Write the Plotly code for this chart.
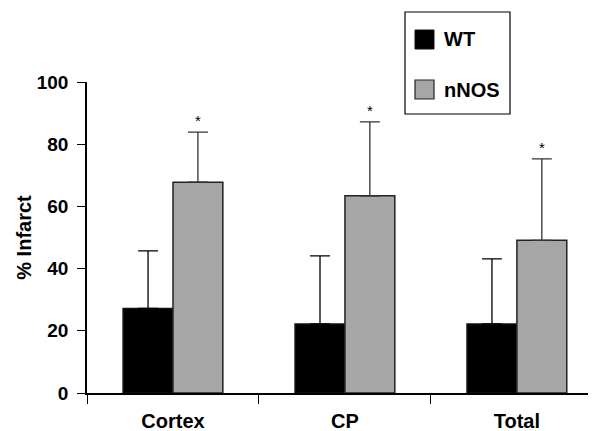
import plotly.graph_objects as go

categories = ["Cortex", "CP", "Total"]
wt_values = [27.2, 22.2, 22.2]
wt_errors = [18.5, 21.9, 20.9]
nnos_values = [67.8, 63.4, 49.1]
nnos_errors = [16.1, 23.8, 26.2]
significance = ["*", "*", "*"]
y_ticks = [0, 20, 40, 60, 80, 100]

# page body has an 8px margin; compensate so the plot lands where intended
OFF = 8
W, H = 596 - OFF, 431 - OFF
L, R, T, B = 87 - OFF, 0, 82 - OFF, 38
FONT = "Liberation Sans, Arial, sans-serif"

fig = go.Figure()
fig.add_trace(go.Bar(
    x=categories, y=wt_values, name="WT",
    marker=dict(color="black", line=dict(color="#111", width=1.5)),
    error_y=dict(type="data", array=wt_errors, symmetric=False,
                 arrayminus=[0] * 3, color="black", thickness=1.3, width=10),
    showlegend=False,
))
fig.add_trace(go.Bar(
    x=categories, y=nnos_values, name="nNOS",
    marker=dict(color="#a6a6a6", line=dict(color="#222", width=1.5)),
    error_y=dict(type="data", array=nnos_errors, symmetric=False,
                 arrayminus=[0] * 3, color="#333", thickness=1.3, width=10),
    showlegend=False,
))

x_range = [-0.5, 2.46]
bargap = 0.42
cat_px = (W - L - R) / (x_range[1] - x_range[0])
bar_px = (1 - bargap) / 2 * cat_px

annotations = []
for c, v, e, s in zip(categories, nnos_values, nnos_errors, significance):
    annotations.append(dict(
        x=c, y=v + e, text=s, showarrow=False, xref="x", yref="y",
        xshift=bar_px / 2, yanchor="bottom", yshift=1,
        font=dict(family=FONT, size=15, color="black"),
    ))

# manual legend (paper coords from window pixel positions)
pw, ph = W - L - R, H - T - B
def px(x):
    return (x - OFF - L) / pw
def py(y):
    return (H - B - (y - OFF)) / ph

shapes = [
    dict(type="rect", xref="paper", yref="paper",
         x0=px(405), x1=px(510), y0=py(114), y1=py(12),
         line=dict(color="black", width=1.2), fillcolor="white"),
    dict(type="rect", xref="paper", yref="paper",
         x0=px(415), x1=px(434), y0=py(49), y1=py(30),
         line=dict(color="#111", width=1), fillcolor="black"),
    dict(type="rect", xref="paper", yref="paper",
         x0=px(415), x1=px(434), y0=py(99), y1=py(80),
         line=dict(color="#222", width=1.2), fillcolor="#a6a6a6"),
]
for name, yc in (("WT", 39.5), ("nNOS", 89.5)):
    annotations.append(dict(
        x=px(442), y=py(yc), xref="paper", yref="paper", text=name,
        showarrow=False, xanchor="left", yanchor="middle",
        font=dict(family=FONT, size=20, color="black", weight="bold"),
    ))

fig.update_layout(
    width=W, height=H,
    margin=dict(l=L, r=R, t=T, b=B, pad=0),
    paper_bgcolor="white", plot_bgcolor="white",
    barmode="group", bargap=bargap, bargroupgap=0,
    shapes=shapes, annotations=annotations,
    xaxis=dict(
        type="category", range=x_range, tickson="boundaries",
        ticks="outside", ticklen=9, tickwidth=1.3, tickcolor="black",
        showline=True, linecolor="black", linewidth=1.5,
        showgrid=False, zeroline=False, ticklabelstandoff=9,
        tickfont=dict(family=FONT, size=20, color="black", weight="bold"),
    ),
    yaxis=dict(
        range=[0, 100], tickvals=y_ticks,
        ticks="outside", ticklen=8, tickwidth=1.3, tickcolor="black",
        showline=True, linecolor="black", linewidth=1.5,
        showgrid=False, zeroline=False, ticklabelstandoff=5,
        tickfont=dict(family=FONT, size=19, color="black", weight="bold"),
        title=dict(text="% Infarct", standoff=0,
                   font=dict(family=FONT, size=20, color="black", weight="bold")),
    ),
)

fig.write_html("out.html")
